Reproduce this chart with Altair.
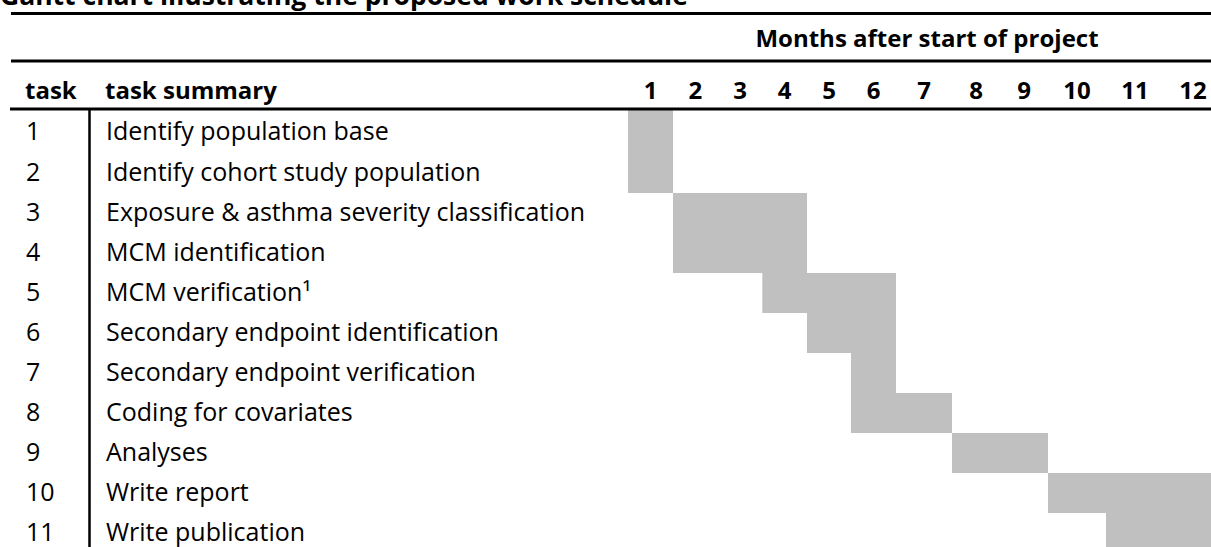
import altair as alt
import pandas as pd

# ---- data ----
task_ids = ["1", "2", "3", "4", "5", "6", "7", "8", "9", "10", "11"]
task_summaries = [
    "Identify population base",
    "Identify cohort study population",
    "Exposure & asthma severity classification",
    "MCM identification",
    "MCM verification\u00b9",
    "Secondary endpoint identification",
    "Secondary endpoint verification",
    "Coding for covariates",
    "Analyses",
    "Write report",
    "Write publication",
]
start_month = [1, 1, 2, 2, 4, 5, 6, 6, 8, 10, 11]
end_month = [1, 1, 4, 4, 6, 6, 6, 7, 9, 12, 12]
month_labels = ["1", "2", "3", "4", "5", "6", "7", "8", "9", "10", "11", "12"]
title_text = "Gantt chart illustrating the proposed work schedule"
months_header = "Months after start of project"
col_task = "task"
col_summary = "task summary"

# ---- layout (table column edges / row edges in pixels) ----
W, H = 1211, 547
month_edges_px = [628, 673, 717.7, 762.3, 807, 851, 896, 952, 1000, 1048, 1106, 1164, 1222]
month_edges = [i + 0.5 for i in range(13)]
row_domain = [0.5, 1.5, 11.5]
row_range = [110, 153, 553]
FONT = "Open Sans"
FS = 25
FSB = 24
GREY = "#c0c0c0"

xs = alt.Scale(domain=month_edges, range=month_edges_px, nice=False, zero=False)
ys = alt.Scale(domain=row_domain, range=row_range, nice=False, zero=False)

rows = pd.DataFrame({
    "row": list(range(1, len(task_ids) + 1)),
    "task": task_ids,
    "summary": task_summaries,
    "start": start_month,
    "end": end_month,
})
months = pd.DataFrame({"month": list(range(1, 13)), "label": month_labels})

base = alt.Chart(rows)

bars = base.transform_calculate(
    x0="datum.start - 0.5", x1="datum.end + 0.5",
    y0="datum.row - 0.5", y1="datum.row + 0.5",
).mark_rect(color=GREY, stroke=None).encode(
    x=alt.X("x0:Q", scale=xs, axis=None),
    x2="x1:Q",
    y=alt.Y("y0:Q", scale=ys, axis=None),
    y2="y1:Q",
)

task_txt = base.mark_text(align="left", baseline="middle", font=FONT, fontSize=FS, color="black").encode(
    x=alt.value(26),
    y=alt.Y("row:Q", scale=ys, axis=None),
    text="task:N",
)
summary_txt = base.mark_text(align="left", baseline="middle", font=FONT, fontSize=FS, color="black").encode(
    x=alt.value(106),
    y=alt.Y("row:Q", scale=ys, axis=None),
    text="summary:N",
)

month_txt = alt.Chart(months).mark_text(
    align="center", baseline="alphabetic", font=FONT, fontSize=FSB, fontWeight="bold", color="black"
).encode(
    x=alt.X("month:Q", scale=xs, axis=None),
    y=alt.value(99),
    text="label:N",
)


def header_text(txt, x, y, align, size):
    return alt.Chart(pd.DataFrame({"t": [txt]})).mark_text(
        align=align, baseline="alphabetic", font=FONT, fontSize=size, fontWeight="bold", color="black"
    ).encode(x=alt.value(x), y=alt.value(y), text="t:N")


h_task = header_text(col_task, 25, 99, "left", FSB)
h_summary = header_text(col_summary, 105, 99, "left", FSB)
h_months = header_text(months_header, 927, 47, "center", FSB)
h_title = header_text(title_text, 0, 5, "left", 26.5)


def hrule(y, x0, x1, w):
    return alt.Chart(pd.DataFrame({"k": [0]})).mark_rule(color="black", strokeWidth=w).encode(
        x=alt.value(x0), x2=alt.value(x1), y=alt.value(y)
    )


def vrule(x, y0, y1, w):
    return alt.Chart(pd.DataFrame({"k": [0]})).mark_rule(color="black", strokeWidth=w).encode(
        x=alt.value(x), y=alt.value(y0), y2=alt.value(y1)
    )


rules = [
    hrule(13.5, 11, W, 3),
    hrule(61, 11, W, 3),
    hrule(109, 10, W, 3),
    vrule(89.5, 110, H, 2.5),
]

chart = alt.layer(
    bars, task_txt, summary_txt, month_txt, h_task, h_summary, h_months, h_title, *rules
).properties(
    width=W, height=H, padding=0, autosize="none", background="white"
).configure_view(stroke=None)

chart.save("out.html", embed_options={"renderer": "svg", "actions": False})
